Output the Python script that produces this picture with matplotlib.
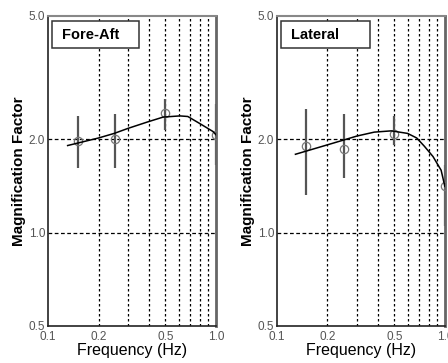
import numpy as np
import matplotlib
matplotlib.use("Agg")
import matplotlib.pyplot as plt
from matplotlib.patches import Rectangle
from matplotlib.ticker import FixedLocator, NullLocator

plt.rcParams['font.family'] = ['Liberation Sans', 'DejaVu Sans']

# measured points (frequency, magnification factor, error range)
freq_pts = [0.15, 0.25, 0.5, 1.0]
fa_mean = [1.97, 2.01, 2.43, 2.07]
fa_lo = [1.62, 1.62, 2.14, 1.65]
fa_hi = [2.38, 2.42, 2.69, 2.60]
lat_mean = [1.91, 1.86, 2.08, 1.41]
lat_lo = [1.32, 1.50, 1.92, 1.05]
lat_hi = [2.50, 2.42, 2.38, 1.65]

# fitted curves
fa_fit_f = [0.131, 0.2, 0.248, 0.3, 0.396, 0.486, 0.61, 0.68, 0.80, 0.96, 1.0]
fa_fit_v = [1.91, 2.02, 2.09, 2.17, 2.28, 2.36, 2.38, 2.37, 2.25, 2.12, 2.07]
lat_fit_f = [0.129, 0.2, 0.25, 0.30, 0.38, 0.48, 0.60, 0.68, 0.755, 0.85, 0.95, 1.0]
lat_fit_v = [1.79, 1.92, 1.99, 2.05, 2.11, 2.13, 2.09, 2.02, 1.90, 1.76, 1.59, 1.41]

panels = [
    ("Fore-Aft", fa_mean, fa_lo, fa_hi, fa_fit_f, fa_fit_v, [0.107, 0.102, 0.375, 0.854], 0.52),
    ("Lateral", lat_mean, lat_lo, lat_hi, lat_fit_f, lat_fit_v, [0.618, 0.102, 0.375, 0.854], 0.534),
]

fig = plt.figure(figsize=(4.48, 3.63), dpi=100)
for name, mean, lo, hi, ff, fv, pos, boxw in panels:
    ax = fig.add_axes(pos)
    ax.set_xscale("log"); ax.set_yscale("log")
    ax.set_xlim(0.1, 1.0); ax.set_ylim(0.5, 5.0)
    for f in [0.2, 0.3, 0.4, 0.5, 0.6, 0.7, 0.8, 0.9]:
        ax.axvline(f, color="k", ls=(0, (2, 2)), lw=0.9, zorder=1)
    for v in [1.0, 2.0]:
        ax.axhline(v, color="k", ls=(0, (3, 2)), lw=0.9, zorder=1)
    ax.vlines(freq_pts, lo, hi, color="#555555", lw=1.6, zorder=2)
    ax.plot(freq_pts, mean, "o", mfc="none", mec="#777777", ms=6, mew=0.9, zorder=3)
    ax.plot(ff, fv, "-", color="k", lw=1.1, zorder=4)
    ax.xaxis.set_major_locator(FixedLocator([0.1, 0.2, 0.5, 1.0]))
    ax.xaxis.set_minor_locator(NullLocator())
    ax.yaxis.set_major_locator(FixedLocator([0.5, 1.0, 2.0, 5.0]))
    ax.yaxis.set_minor_locator(NullLocator())
    ax.set_xticklabels(["0.1", "0.2", "0.5", "1.0"])
    ax.set_yticklabels(["0.5", "1.0", "2.0", "5.0"])
    ax.tick_params(length=0, labelsize=8.5, labelcolor="#555555")
    ax.tick_params(axis="x", pad=3.5)
    ax.tick_params(axis="y", pad=2)
    for s in ["left", "bottom"]:
        ax.spines[s].set_color("#222222"); ax.spines[s].set_linewidth(1.2)
    ax.spines["top"].set_color("#888888"); ax.spines["top"].set_linewidth(1.5)
    ax.spines["right"].set_color("#666666"); ax.spines["right"].set_linewidth(2.0)
    ax.set_xlabel("Frequency (Hz)", fontsize=11.5, labelpad=0)
    ax.set_ylabel("Magnification Factor", fontsize=11, fontweight="bold", labelpad=2)
    ax.add_patch(Rectangle((0.023, 0.898), boxw, 0.085, transform=ax.transAxes,
                           fc="white", ec="#333333", lw=1.1, zorder=6))
    ax.text(0.085, 0.94, name, transform=ax.transAxes, fontsize=10.5, fontweight="bold",
            va="center", ha="left", zorder=7)

fig.savefig("out.png", dpi=100)
